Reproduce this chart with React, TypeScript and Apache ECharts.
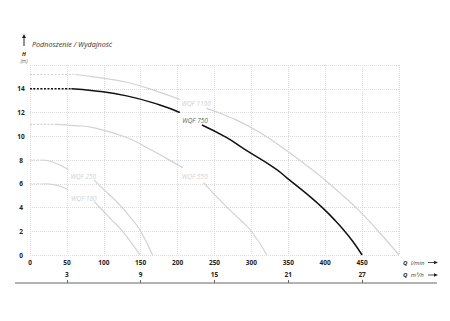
import React, { useEffect, useRef } from "react";
import * as echarts from "echarts";

// Flow axis (l/min) and head axis (m)
const flowTicksLmin = { min: 0, max: 500, step: 50 };
const headTicks = { min: 0, max: 16, step: 2 };
// Secondary flow axis (m³/h)
const flowM3hRange = { min: 0, max: 30 };
const flowM3hLabels = [3, 9, 15, 21, 27];

// WQF 1100
const wqf1100Dashed = [[0, 15.2], [61, 15.2]];
const wqf1100Upper = [[61, 15.2], [86, 15.0], [131, 14.55], [176, 13.7], [203, 13.1]];
const wqf1100Lower = [[239, 12.35], [275, 11.5], [312, 10.3], [350, 8.7], [382, 7.2], [400, 6.3], [425, 4.95], [445, 3.8], [472, 2.0], [500, 0]];
// WQF 750
const wqf750Dashed = [[0, 14], [56, 14]];
const wqf750Upper = [[56, 14], [86, 13.84], [131, 13.4], [176, 12.63], [203, 12.0]];
const wqf750Lower = [[233, 10.95], [266, 9.9], [291, 8.9], [332, 7.3], [348, 6.5], [375, 5.15], [390, 4.34], [400, 3.76], [412, 3.0], [425, 2.1], [437, 1.18], [450, 0]];
// WQF 550
const wqf550Dashed = [[0, 11], [35, 11]];
const wqf550Upper = [[35, 11], [60, 10.9], [86, 10.72], [131, 9.9], [158, 9.05], [183, 8.2], [207, 7.35]];
const wqf550Lower = [[235, 6.1], [264, 4.2], [285, 2.95], [300, 2.0], [321, 0]];
// WQF 250
const wqf250Dashed = [[0, 8], [17, 8]];
const wqf250Upper = [[17, 8], [30, 7.85], [52, 7.2]];
const wqf250Lower = [[87, 6.3], [100, 5.5], [117.5, 4.5], [135, 3.25], [149, 2.1], [166, 0]];
// WQF 180
const wqf180Dashed = [[0, 6], [18, 6]];
const wqf180Upper = [[18, 6], [34, 5.9], [52, 5.5]];
const wqf180Lower = [[87, 4.5], [97, 3.85], [110, 3.0], [122, 2.25], [136, 1.15], [149, 0]];

// Curve labels
const curveNames = ["WQF 1100", "WQF 750", "WQF 550", "WQF 250", "WQF 180"];
const curveLabelPos = [[225, 12.8], [223.6, 11.3], [223, 6.65], [72.2, 6.58], [72.9, 4.8]];

const GRAY = "#d2d2d2";
const BLACK = "#111111";
const FONT = "Open Sans";

function lineSeries(data: number[][], color: string, width: number, dashed: boolean) {
  return {
    type: "line",
    data,
    symbol: "none",
    showSymbol: false,
    smooth: true,
    silent: true,
    xAxisIndex: 0,
    yAxisIndex: 0,
    lineStyle: { color, width, type: dashed ? [2, 1.5] : "solid", cap: "butt" },
    z: color === BLACK ? 4 : 3,
  };
}

export default function App() {
  const ref = useRef<HTMLDivElement>(null);
  useEffect(() => {
    if (!ref.current) return;
    const chart = echarts.init(ref.current, undefined, { renderer: "svg" });
    const splitStyle = { show: true, lineStyle: { color: "#dcdcdc", width: 1, type: "dotted" } };
    const series: any[] = [
      lineSeries(wqf1100Dashed, GRAY, 1.2, true),
      lineSeries(wqf1100Upper, GRAY, 1.2, false),
      lineSeries(wqf1100Lower, GRAY, 1.2, false),
      lineSeries(wqf550Dashed, GRAY, 1.2, true),
      lineSeries(wqf550Upper, GRAY, 1.2, false),
      lineSeries(wqf550Lower, GRAY, 1.2, false),
      lineSeries(wqf250Dashed, GRAY, 1.2, true),
      lineSeries(wqf250Upper, GRAY, 1.2, false),
      lineSeries(wqf250Lower, GRAY, 1.2, false),
      lineSeries(wqf180Dashed, GRAY, 1.2, true),
      lineSeries(wqf180Upper, GRAY, 1.2, false),
      lineSeries(wqf180Lower, GRAY, 1.2, false),
      lineSeries(wqf750Dashed, BLACK, 1.5, true),
      lineSeries(wqf750Upper, BLACK, 1.5, false),
      lineSeries(wqf750Lower, BLACK, 1.5, false),
      {
        type: "scatter",
        silent: true,
        symbolSize: 0,
        xAxisIndex: 0,
        yAxisIndex: 0,
        z: 5,
        data: curveNames.map((n, i) => ({
          value: [curveLabelPos[i][0], curveLabelPos[i][1], n],
          label: { color: n === "WQF 750" ? "#333" : "#c4c4c4" },
        })),
        label: {
          show: true,
          position: "inside",
          formatter: (p: any) => p.value[2],
          fontFamily: FONT,
          fontStyle: "italic",
          fontSize: 6.5,
        },
      },
    ];
    chart.setOption({
      animation: false,
      grid: { left: 30, right: 51, top: 65, bottom: 66 },
      xAxis: [
        {
          type: "value",
          min: flowTicksLmin.min,
          max: flowTicksLmin.max,
          interval: flowTicksLmin.step,
          axisLine: { show: false },
          axisTick: { show: false },
          splitLine: splitStyle,
          axisLabel: {
            margin: 4,
            fontFamily: FONT,
            fontWeight: "bold",
            fontSize: 6.5,
            color: "#222",
            formatter: (v: number) => (v === flowTicksLmin.max ? "" : String(v)),
          },
        },
        {
          type: "value",
          position: "bottom",
          offset: 28,
          min: flowM3hRange.min,
          max: flowM3hRange.max,
          axisLine: { show: false },
          splitLine: { show: false },
          axisTick: {
            show: true,
            inside: true,
            length: 3,
            customValues: flowM3hLabels,
            lineStyle: { color: "#666", width: 1 },
          },
          axisLabel: {
            inside: true,
            margin: 5,
            customValues: flowM3hLabels,
            fontFamily: FONT,
            fontWeight: "bold",
            fontSize: 6.5,
            color: "#222",
          },
        },
      ],
      yAxis: {
        type: "value",
        min: headTicks.min,
        max: headTicks.max,
        interval: headTicks.step,
        axisLine: { show: false },
        axisTick: { show: false },
        splitLine: splitStyle,
        axisLabel: {
          margin: 9,
          align: "center",
          fontFamily: FONT,
          fontWeight: "bold",
          fontSize: 6.5,
          color: "#222",
          formatter: (v: number) => (v === headTicks.max ? "" : String(v)),
        },
      },
      graphic: [
        { type: "line", shape: { x1: 15, y1: 283, x2: 437, y2: 283 }, style: { stroke: "#666", lineWidth: 1 } },
        { type: "line", shape: { x1: 24, y1: 46, x2: 24, y2: 37 }, style: { stroke: "#222", lineWidth: 1 } },
        { type: "polygon", shape: { points: [[22, 38], [26, 38], [24, 34]] }, style: { fill: "#222" } },
        {
          type: "text",
          x: 32,
          y: 43.5,
          style: { text: "Podnoszenie / Wydajność", fontFamily: FONT, fontStyle: "italic", fontSize: 7.2, fill: "#333", verticalAlign: "middle" },
        },
        {
          type: "text",
          x: 24,
          y: 54,
          style: { text: "H", fontFamily: FONT, fontStyle: "italic", fontWeight: "bold", fontSize: 5.5, fill: "#222", align: "center", verticalAlign: "middle" },
        },
        {
          type: "text",
          x: 24,
          y: 61,
          style: { text: "(m)", fontFamily: FONT, fontStyle: "italic", fontSize: 5, fill: "#666", align: "center", verticalAlign: "middle" },
        },
        {
          type: "text",
          x: 403,
          y: 262.5,
          style: {
            text: "{b|Q} {n|l/min}",
            verticalAlign: "middle",
            rich: {
              b: { fontFamily: FONT, fontStyle: "italic", fontWeight: "bold", fontSize: 6, fill: "#222" },
              n: { fontFamily: FONT, fontStyle: "italic", fontSize: 6, fill: "#444" },
            },
          },
        },
        {
          type: "text",
          x: 403,
          y: 275,
          style: {
            text: "{b|Q} {n|m³/h}",
            verticalAlign: "middle",
            rich: {
              b: { fontFamily: FONT, fontStyle: "italic", fontWeight: "bold", fontSize: 6, fill: "#222" },
              n: { fontFamily: FONT, fontStyle: "italic", fontSize: 6, fill: "#444" },
            },
          },
        },
        { type: "line", shape: { x1: 428, y1: 262.5, x2: 435, y2: 262.5 }, style: { stroke: "#222", lineWidth: 0.8 } },
        { type: "polygon", shape: { points: [[434, 260.8], [434, 264.2], [438, 262.5]] }, style: { fill: "#222" } },
        { type: "line", shape: { x1: 428, y1: 275, x2: 435, y2: 275 }, style: { stroke: "#222", lineWidth: 0.8 } },
        { type: "polygon", shape: { points: [[434, 273.3], [434, 276.7], [438, 275]] }, style: { fill: "#222" } },
      ],
      series,
    });
    return () => chart.dispose();
  }, []);
  return (
    <div
      ref={ref}
      style={{ position: "fixed", left: 0, top: 0, width: 450, height: 321, background: "#fff" }}
    />
  );
}
